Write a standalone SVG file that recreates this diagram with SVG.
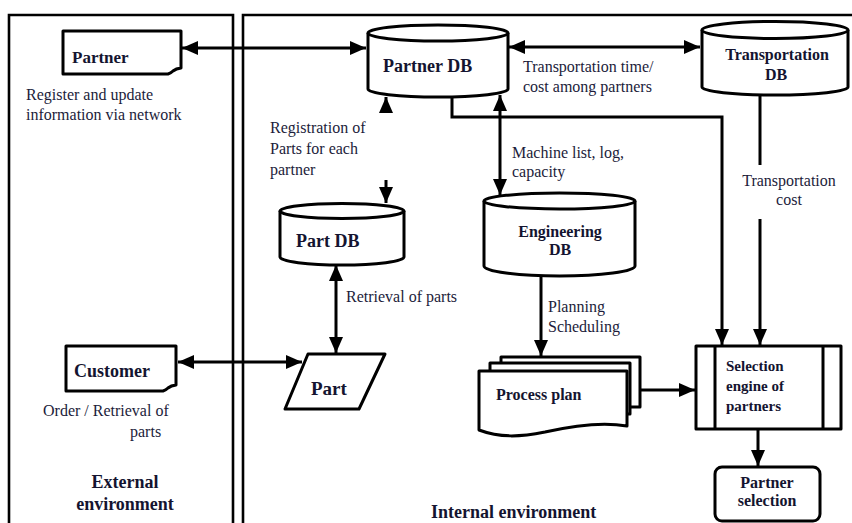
<svg xmlns="http://www.w3.org/2000/svg" width="852" height="523" viewBox="0 0 852 523">
<style>
.frame{fill:none;stroke:#000;stroke-width:2.6}
.shape{fill:#fff;stroke:#000;stroke-width:3;stroke-linejoin:round}
.conn{fill:none;stroke:#000;stroke-width:3}
.t{font-family:"Liberation Serif","Times New Roman",serif;font-size:16px;fill:#1c1c3a}
.b{font-family:"Liberation Serif","Times New Roman",serif;font-weight:bold;fill:#141430}
</style>
<defs>
<marker id="ah" markerUnits="userSpaceOnUse" markerWidth="16" markerHeight="14" viewBox="0 0 16 14" refX="16" refY="7" orient="auto-start-reverse">
<path d="M0,0 L16,7 L0,14 Z" fill="#000"/>
</marker>
</defs>
<rect width="852" height="523" fill="#fff"/>
<g id="frames">
<path class="frame" d="M9,523 V15 H233 V523"/>
<path class="frame" d="M243,523 V15 H852"/>
</g>
<g id="connectors">
<line class="conn" x1="182" y1="48" x2="366" y2="48" marker-start="url(#ah)" marker-end="url(#ah)"/>
<line class="conn" x1="509" y1="47" x2="700" y2="47" marker-start="url(#ah)" marker-end="url(#ah)"/>
<path class="conn" d="M452,97 V117 H722 V345" marker-end="url(#ah)"/>
<line class="conn" x1="760" y1="95" x2="760" y2="165"/>
<line class="conn" x1="760" y1="219" x2="760" y2="345" marker-end="url(#ah)"/>
<line class="conn" x1="500" y1="95" x2="500" y2="195" marker-start="url(#ah)" marker-end="url(#ah)"/>
<line class="conn" x1="386" y1="113" x2="386" y2="97" marker-end="url(#ah)"/>
<line class="conn" x1="386" y1="180" x2="386" y2="203" marker-end="url(#ah)"/>
<line class="conn" x1="336" y1="265" x2="336" y2="353" marker-start="url(#ah)" marker-end="url(#ah)"/>
<line class="conn" x1="178" y1="362" x2="302" y2="362" marker-start="url(#ah)" marker-end="url(#ah)"/>
<line class="conn" x1="541" y1="277" x2="541" y2="356" marker-end="url(#ah)"/>
<line class="conn" x1="640" y1="390" x2="695" y2="390" marker-end="url(#ah)"/>
<line class="conn" x1="758" y1="430" x2="758" y2="466" marker-end="url(#ah)"/>
</g>
<g id="partner">
<path class="shape" d="M63,31 H181 V68 Q176,68.5 173,71 Q171,73 168,74 H63 Z"/>
<text class="b" x="72" y="63" font-size="17">Partner</text>
</g>
<g id="customer">
<path class="shape" d="M66,346 H176 V385 Q171,385.5 168,388 Q166,390 163,391 H66 Z"/>
<text class="b" x="74" y="377" font-size="18">Customer</text>
</g>
<g id="partner-db">
<path class="shape" d="M368,33 V89 A70,8 0 0 0 508,89 V33"/>
<ellipse class="shape" cx="438" cy="33" rx="70" ry="8"/>
<text class="b" x="383" y="72" font-size="18">Partner DB</text>
</g>
<g id="transportation-db">
<path class="shape" d="M702,30 V87 A73,8 0 0 0 848,87 V30"/>
<ellipse class="shape" cx="775" cy="30" rx="73" ry="8.5"/>
<text class="b" x="777" y="60" font-size="16" text-anchor="middle">Transportation</text>
<text class="b" x="776" y="80" font-size="16" text-anchor="middle">DB</text>
</g>
<g id="engineering-db">
<path class="shape" d="M484,201 V266 A75.5,10 0 0 0 635,266 V201"/>
<ellipse class="shape" cx="559.5" cy="201" rx="75.5" ry="8"/>
<text class="b" x="560" y="237" font-size="16" text-anchor="middle">Engineering</text>
<text class="b" x="560" y="255" font-size="16" text-anchor="middle">DB</text>
</g>
<g id="part-db">
<path class="shape" d="M280,211 V257 A62,8 0 0 0 404,257 V211"/>
<ellipse class="shape" cx="342" cy="211" rx="62" ry="7.5"/>
<text class="b" x="296" y="247" font-size="18">Part DB</text>
</g>
<g id="part">
<path class="shape" d="M308,354 H385 L359,409 H285 Z"/>
<text class="b" x="311" y="395" font-size="19">Part</text>
</g>
<g id="process-plan">
<rect class="shape" x="501" y="357" width="139" height="50"/>
<rect class="shape" x="490" y="363" width="140" height="51"/>
<path class="shape" d="M479,371 H627 V426 C605,422 580,424 545,432 C520,437 500,438 479,430 Z"/>
<text class="b" x="496" y="400" font-size="16">Process plan</text>
</g>
<g id="selection-engine">
<rect class="shape" x="696" y="346" width="145" height="83"/>
<line class="shape" x1="715" y1="346" x2="715" y2="429"/>
<line class="shape" x1="823" y1="346" x2="823" y2="429"/>
<text class="b" x="726" y="371" font-size="15">Selection</text>
<text class="b" x="726" y="391" font-size="15">engine of</text>
<text class="b" x="726" y="411" font-size="15">partners</text>
</g>
<g id="partner-selection">
<rect class="shape" x="715" y="467" width="105" height="54" rx="7"/>
<text class="b" x="767" y="488" font-size="16" text-anchor="middle">Partner</text>
<text class="b" x="767" y="506" font-size="16" text-anchor="middle">selection</text>
</g>
<g id="labels">
<text class="t" x="26" y="100">Register and update</text>
<text class="t" x="26" y="120">information via network</text>
<text class="t" x="270" y="133">Registration of</text>
<text class="t" x="270" y="154">Parts for each</text>
<text class="t" x="270" y="175">partner</text>
<text class="t" x="523" y="72">Transportation time/</text>
<text class="t" x="523" y="92">cost among partners</text>
<text class="t" x="512" y="158">Machine list, log,</text>
<text class="t" x="512" y="177">capacity</text>
<text class="t" x="789" y="186" text-anchor="middle">Transportation</text>
<text class="t" x="789" y="205" text-anchor="middle">cost</text>
<text class="t" x="346" y="302">Retrieval of parts</text>
<text class="t" x="548" y="312">Planning</text>
<text class="t" x="548" y="332">Scheduling</text>
<text class="t" x="43" y="416">Order / Retrieval of</text>
<text class="t" x="130" y="437">parts</text>
<text class="b" x="125" y="488" font-size="18" text-anchor="middle">External</text>
<text class="b" x="125" y="510" font-size="18" text-anchor="middle">environment</text>
<text class="b" x="431" y="518" font-size="18">Internal environment</text>
</g>
</svg>
